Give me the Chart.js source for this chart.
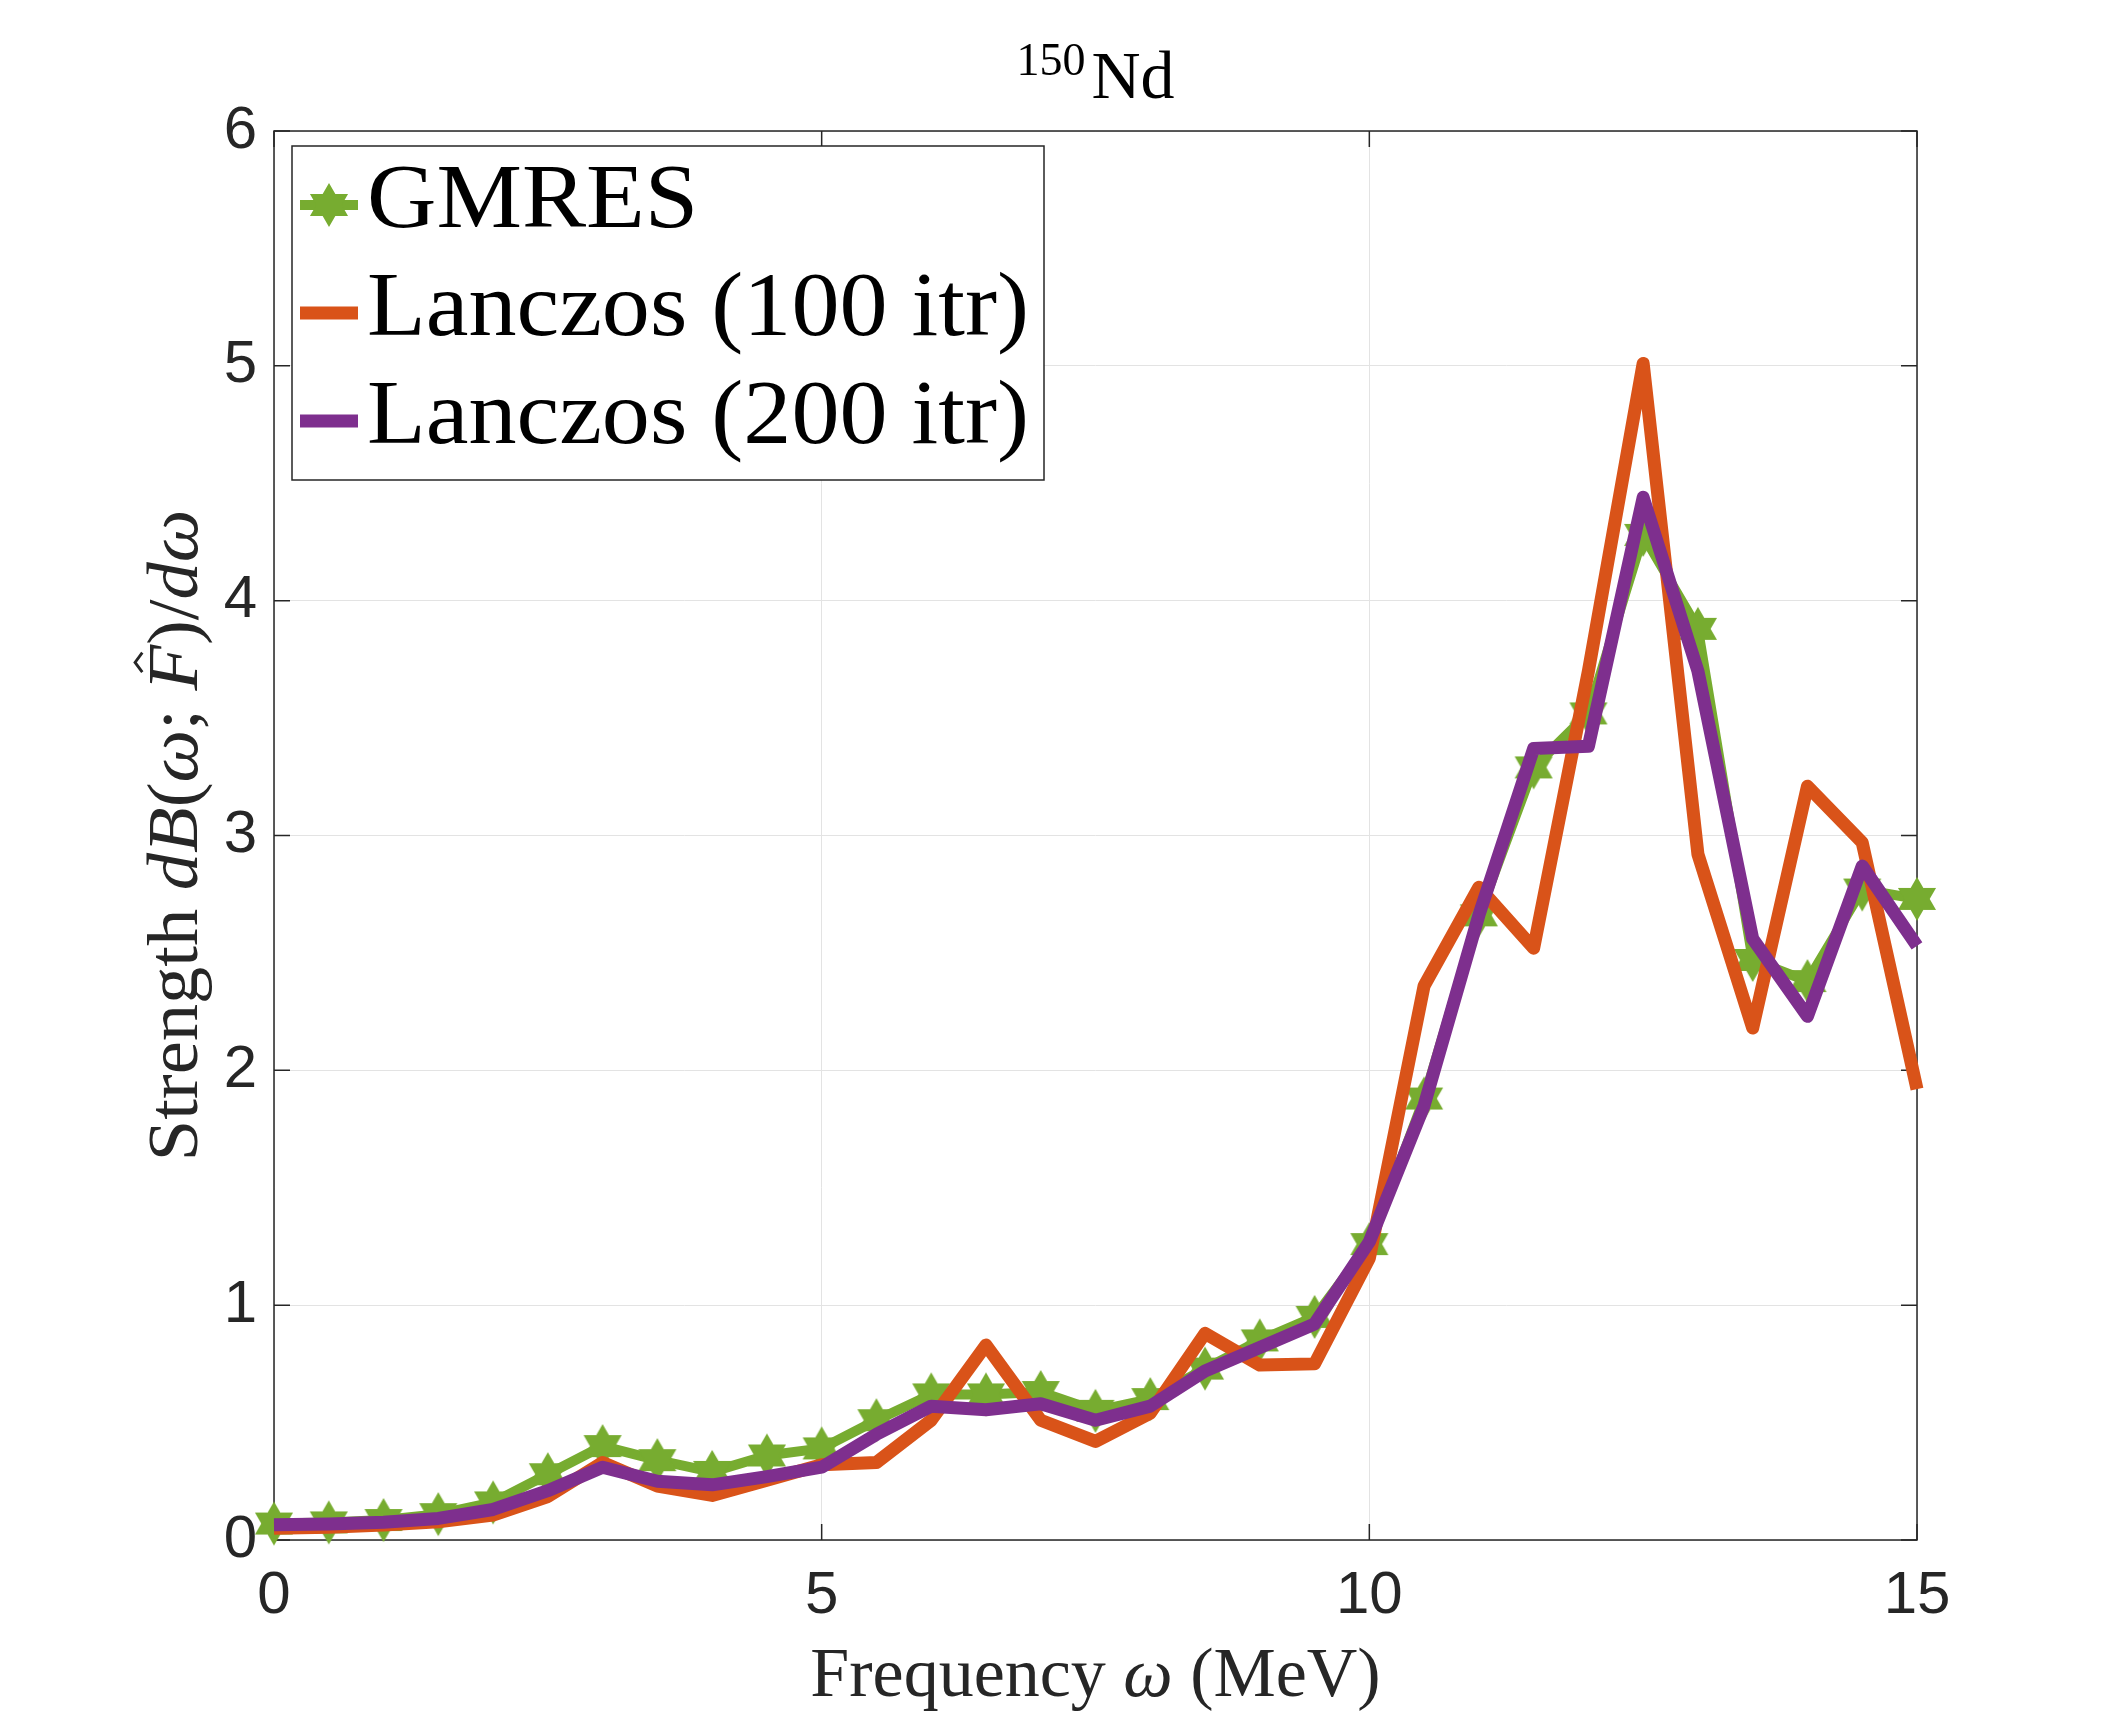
<!DOCTYPE html>
<html>
<head>
<meta charset="utf-8">
<title>150Nd strength function</title>
<script src="https://cdn.jsdelivr.net/npm/chart.js@4.4.1/dist/chart.umd.min.js"></script>
<style>
  html, body { margin: 0; padding: 0; background: #ffffff; }
  canvas { display: block; }
</style>
</head>
<body>
<canvas id="strengthChart" width="2118" height="1730"></canvas>
<script>
// values
const frequencies = [0, 0.5, 1, 1.5, 2, 2.5, 3, 3.5, 4, 4.5, 5, 5.5, 6, 6.5, 7, 7.5, 8, 8.5, 9, 9.5, 10, 10.5, 11, 11.5, 12, 12.5, 13, 13.5, 14, 14.5, 15];
const gmresValues = [0.07, 0.075, 0.085, 0.11, 0.16, 0.28, 0.40, 0.34, 0.29, 0.36, 0.39, 0.51, 0.62, 0.62, 0.63, 0.55, 0.60, 0.73, 0.85, 0.95, 1.26, 1.88, 2.66, 3.29, 3.52, 4.28, 3.88, 2.47, 2.38, 2.77, 2.73];
const lanczos100Values = [0.05, 0.054, 0.064, 0.078, 0.106, 0.185, 0.33, 0.23, 0.19, 0.255, 0.32, 0.33, 0.51, 0.83, 0.51, 0.42, 0.54, 0.88, 0.745, 0.75, 1.2, 2.36, 2.78, 2.52, 3.7, 5.01, 2.92, 2.18, 3.21, 2.97, 1.92];
const lanczos200Values = [0.065, 0.068, 0.076, 0.092, 0.13, 0.21, 0.31, 0.25, 0.235, 0.27, 0.31, 0.45, 0.57, 0.555, 0.58, 0.51, 0.57, 0.72, 0.82, 0.92, 1.27, 1.85, 2.66, 3.37, 3.38, 4.44, 3.70, 2.56, 2.23, 2.87, 2.53];
const seriesLabels = ['GMRES', 'Lanczos (100 itr)', 'Lanczos (200 itr)'];
const xTicks = [0, 5, 10, 15];
const yTicks = [0, 1, 2, 3, 4, 5, 6];

const AXIS_COLOR = '#262626';
const GRID_COLOR = '#e3e3e3';
const SERIF = '"Liberation Serif", "DejaVu Serif", serif';
const SANS = '"Liberation Sans", Arial, sans-serif';

function toPoints(values) {
    return frequencies.map((f, i) => ({ x: f, y: values[i] }));
}

// six pointed star like the matlab 'hexagram' marker
function makeHexagram(radius, color) {
    const c = document.createElement('canvas');
    const size = Math.ceil(radius * 2 + 4);
    c.width = size;
    c.height = size;
    const g = c.getContext('2d');
    g.translate(size / 2, size / 2);
    g.beginPath();
    for (let k = 0; k < 12; k++) {
        const r = k % 2 === 0 ? radius : radius / Math.sqrt(3);
        const a = -Math.PI / 2 + k * Math.PI / 6;
        const px = r * Math.cos(a), py = r * Math.sin(a);
        if (k === 0) g.moveTo(px, py); else g.lineTo(px, py);
    }
    g.closePath();
    g.fillStyle = color;
    g.fill();
    return c;
}

const hexMarker = makeHexagram(22, '#77AC30');

// draw a run of roman / italic pieces, centred on x
// stretch widens the glyphs a bit, closer to the TeX font
function drawRich(ctx, pieces, size, cx, baseline, stretch) {
    const fontFor = p => `${p.italic ? 'italic ' : ''}${size}px ${SERIF}`;
    let total = 0;
    pieces.forEach(p => { ctx.font = fontFor(p); p.w = ctx.measureText(p.text).width; total += p.w; });
    ctx.save();
    ctx.translate(cx, baseline);
    ctx.scale(stretch, 1);
    let x = -total / 2;
    ctx.textAlign = 'left';
    ctx.textBaseline = 'alphabetic';
    pieces.forEach(p => {
        ctx.font = fontFor(p);
        ctx.fillText(p.text, x, 0);
        if (p.hat) {
            const hx = x + p.w * 0.62;
            const top = -size * 0.86;
            ctx.beginPath();
            ctx.moveTo(hx - size * 0.13, top + size * 0.1);
            ctx.lineTo(hx, top);
            ctx.lineTo(hx + size * 0.13, top + size * 0.1);
            ctx.lineWidth = size * 0.04;
            ctx.strokeStyle = AXIS_COLOR;
            ctx.stroke();
        }
        x += p.w;
    });
    ctx.restore();
}

const framePlugin = {
    id: 'frame',
    beforeDatasetsDraw(chart) {
        const { ctx, chartArea: a, scales } = chart;
        const tick = 16;
        ctx.save();
        ctx.strokeStyle = AXIS_COLOR;
        ctx.lineWidth = 1.5;
        ctx.strokeRect(a.left, a.top, a.right - a.left, a.bottom - a.top);
        ctx.beginPath();
        xTicks.forEach(v => {
            const px = scales.x.getPixelForValue(v);
            ctx.moveTo(px, a.bottom); ctx.lineTo(px, a.bottom - tick);
            ctx.moveTo(px, a.top); ctx.lineTo(px, a.top + tick);
        });
        yTicks.forEach(v => {
            const py = scales.y.getPixelForValue(v);
            ctx.moveTo(a.left, py); ctx.lineTo(a.left + tick, py);
            ctx.moveTo(a.right, py); ctx.lineTo(a.right - tick, py);
        });
        ctx.stroke();
        ctx.restore();
    }
};

const legendPlugin = {
    id: 'insideLegend',
    afterDatasetsDraw(chart) {
        const ctx = chart.ctx;
        const box = { left: 292, top: 146, right: 1044, bottom: 480 };
        ctx.save();
        ctx.fillStyle = '#ffffff';
        ctx.fillRect(box.left, box.top, box.right - box.left, box.bottom - box.top);
        ctx.strokeStyle = AXIS_COLOR;
        ctx.lineWidth = 1.5;
        ctx.strokeRect(box.left, box.top, box.right - box.left, box.bottom - box.top);

        const rows = [
            { ds: chart.data.datasets[0], baseline: 227 },
            { ds: chart.data.datasets[1], baseline: 335 },
            { ds: chart.data.datasets[2], baseline: 443 }
        ];
        rows.forEach(row => {
            const cy = row.baseline - 22;
            ctx.beginPath();
            ctx.moveTo(300, cy);
            ctx.lineTo(358, cy);
            ctx.strokeStyle = row.ds.borderColor;
            ctx.lineWidth = row.ds.borderWidth;
            ctx.stroke();
            if (row.ds.pointStyle instanceof HTMLCanvasElement) {
                const m = row.ds.pointStyle;
                ctx.drawImage(m, 329 - m.width / 2, cy - m.height / 2);
            }
            ctx.save();
            ctx.translate(367, row.baseline);
            ctx.scale(1.045, 1);
            ctx.fillStyle = '#000000';
            ctx.font = `92px ${SERIF}`;
            ctx.textAlign = 'left';
            ctx.textBaseline = 'alphabetic';
            ctx.fillText(row.ds.label, 0, 0);
            ctx.restore();
        });
        ctx.restore();
    }
};

const labelsPlugin = {
    id: 'axisLabels',
    afterDraw(chart) {
        const ctx = chart.ctx;
        const a = chart.chartArea;
        const midX = (a.left + a.right) / 2;
        const midY = (a.top + a.bottom) / 2;
        ctx.save();
        ctx.fillStyle = '#000000';

        // title: superscript mass number
        ctx.font = `46px ${SERIF}`;
        const supW = ctx.measureText('150').width;
        ctx.font = `68px ${SERIF}`;
        const ndW = ctx.measureText('Nd').width;
        const start = midX - (supW + 6 + ndW) / 2;
        ctx.textAlign = 'left';
        ctx.textBaseline = 'alphabetic';
        ctx.font = `46px ${SERIF}`;
        ctx.fillText('150', start, 75);
        ctx.font = `68px ${SERIF}`;
        ctx.fillText('Nd', start + supW + 6, 98);

        ctx.fillStyle = AXIS_COLOR;
        drawRich(ctx, [
            { text: 'Frequency ' },
            { text: 'ω', italic: true },
            { text: ' (MeV)' }
        ], 70, midX, 1696, 1);

        ctx.translate(197, midY);
        ctx.rotate(-Math.PI / 2);
        drawRich(ctx, [
            { text: 'Strength ' },
            { text: 'dB', italic: true },
            { text: '(' },
            { text: 'ω', italic: true },
            { text: '; ' },
            { text: 'F', italic: true, hat: true },
            { text: ')/' },
            { text: 'dω', italic: true }
        ], 72, 0, 0, 1.035);
        ctx.restore();
    }
};

function initChart() {
    const ctx = document.getElementById('strengthChart').getContext('2d');

    new Chart(ctx, {
        type: 'line',
        data: {
            datasets: [
                {
                    label: seriesLabels[0],
                    data: toPoints(gmresValues),
                    borderColor: '#77AC30',
                    backgroundColor: '#77AC30',
                    borderWidth: 10,
                    pointStyle: hexMarker,
                    pointRadius: 22,
                    order: 2
                },
                {
                    label: seriesLabels[1],
                    data: toPoints(lanczos100Values),
                    borderColor: '#D95319',
                    backgroundColor: '#D95319',
                    borderWidth: 13,
                    pointRadius: 0,
                    order: 1
                },
                {
                    label: seriesLabels[2],
                    data: toPoints(lanczos200Values),
                    borderColor: '#7E2F8E',
                    backgroundColor: '#7E2F8E',
                    borderWidth: 13,
                    pointRadius: 0,
                    order: 0
                }
            ]
        },
        options: {
            responsive: false,
            devicePixelRatio: 1,
            animation: false,
            events: [],
            layout: { padding: { top: 131, right: 201, left: 0, bottom: 0 } },
            elements: {
                line: { tension: 0, borderJoinStyle: 'round', borderCapStyle: 'butt', fill: false },
                point: { hoverRadius: 0 }
            },
            datasets: { line: { clip: false } },
            plugins: {
                legend: { display: false },
                title: { display: false },
                tooltip: { enabled: false }
            },
            scales: {
                x: {
                    type: 'linear',
                    min: 0,
                    max: 15,
                    afterBuildTicks: s => { s.ticks = xTicks.map(v => ({ value: v })); },
                    afterFit: s => { s.height = 190; },
                    grid: { color: GRID_COLOR, lineWidth: 1, drawTicks: false },
                    border: { display: false },
                    ticks: { color: AXIS_COLOR, padding: 20, maxRotation: 0, font: { family: SANS, size: 60 } }
                },
                y: {
                    min: 0,
                    max: 6,
                    afterBuildTicks: s => { s.ticks = yTicks.map(v => ({ value: v })); },
                    afterFit: s => { s.width = 274; },
                    grid: { color: GRID_COLOR, lineWidth: 1, drawTicks: false },
                    border: { display: false },
                    ticks: { color: AXIS_COLOR, padding: 17, font: { family: SANS, size: 60 } }
                }
            }
        },
        plugins: [framePlugin, legendPlugin, labelsPlugin]
    });
}

initChart();
</script>
</body>
</html>
